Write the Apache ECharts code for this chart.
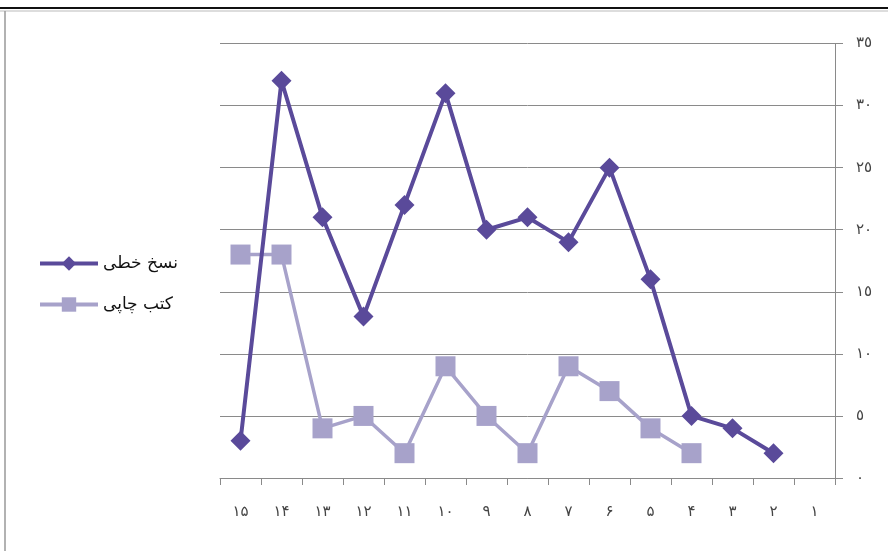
<!DOCTYPE html>
<html>
<head>
<meta charset="utf-8">
<script src="https://cdn.jsdelivr.net/npm/echarts@6/dist/echarts.min.js"></script>
<style>
html,body{margin:0;padding:0;background:#fff;}
#chart{width:888px;height:551px;}
</style>
</head>
<body>
<div id="chart"></div>
<script>
const categories = ['۱۵','۱۴','۱۳','۱۲','۱۱','۱۰','۹','۸','۷','۶','۵','۴','۳','۲','۱'];
const manuscripts = [3, 32, 21, 13, 22, 31, 20, 21, 19, 25, 16, 5, 4, 2, null];
const printedBooks = [18, 18, 4, 5, 2, 9, 5, 2, 9, 7, 4, 2, null, null, null];
const seriesNames = ['نسخ خطی', 'کتب چاپی'];
const yTickLabels = {0:'٠',5:'٥',10:'١٠',15:'١٥',20:'٢٠',25:'٢٥',30:'٣٠',35:'٣٥'};

const chart = echarts.init(document.getElementById('chart'));
chart.setOption({
  backgroundColor: '#fff',
  animation: false,
  graphic: [
    {type:'line', shape:{x1:0,y1:8,x2:888,y2:8}, style:{stroke:'#111',lineWidth:2}},
    {type:'line', shape:{x1:0,y1:11,x2:888,y2:11}, style:{stroke:'#bbb',lineWidth:1}},
    {type:'line', shape:{x1:5,y1:11,x2:5,y2:551}, style:{stroke:'#999',lineWidth:1.5}}
  ],
  grid: {left: 220, right: 53, top: 43.5, bottom: 73},
  legend: {
    orient: 'vertical',
    left: 33,
    top: 250,
    itemWidth: 58,
    itemHeight: 18,
    itemGap: 24,
    lineStyle: {width: 4},
    textStyle: {fontFamily: 'DejaVu Sans', fontSize: 17, color: '#111'},
    data: seriesNames
  },
  xAxis: {
    type: 'category',
    data: categories,
    boundaryGap: true,
    axisLine: {lineStyle: {color: '#8a8a8a', width: 1}},
    axisTick: {show: true, length: 7, lineStyle: {color: '#8a8a8a'}},
    axisLabel: {margin: 27, fontSize: 15, color: '#444', fontFamily: 'DejaVu Sans'},
    splitLine: {show: false}
  },
  yAxis: {
    type: 'value',
    position: 'right',
    min: 0, max: 35, interval: 5,
    axisLine: {show: true, lineStyle: {color: '#8a8a8a', width: 1}},
    axisTick: {show: true, inside: false, length: 8, lineStyle: {color: '#8a8a8a'}},
    axisLabel: {margin: 21, fontSize: 15, color: '#444', fontFamily: 'DejaVu Sans',
      formatter: v => yTickLabels[v] !== undefined ? yTickLabels[v] : v},
    splitLine: {show: true, lineStyle: {color: '#8a8a8a', width: 1}}
  },
  series: [
    {
      name: seriesNames[0],
      type: 'line',
      data: manuscripts,
      connectNulls: false,
      symbol: 'diamond',
      symbolSize: 20,
      lineStyle: {color: '#5a4a9a', width: 4},
      itemStyle: {color: '#5a4a9a'},
      z: 3
    },
    {
      name: seriesNames[1],
      type: 'line',
      data: printedBooks,
      symbol: 'rect',
      symbolSize: 20,
      lineStyle: {color: '#a7a2ca', width: 3.5},
      itemStyle: {color: '#a7a2ca'},
      z: 2
    }
  ]
});
</script>
</body>
</html>
